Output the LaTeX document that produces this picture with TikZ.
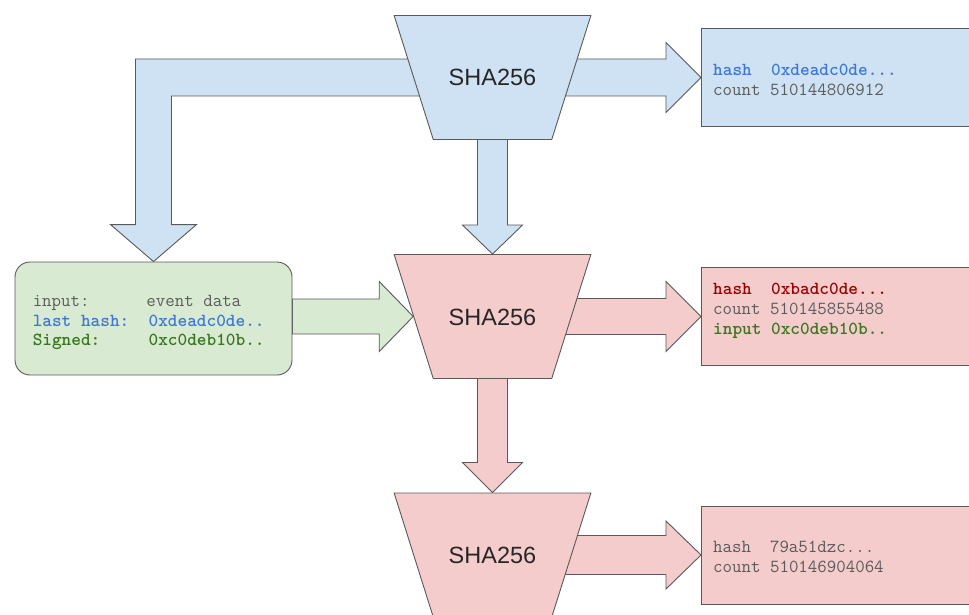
\documentclass[tikz,border=0pt]{standalone}
\usepackage{fontspec}
\newfontfamily\arialfont{Liberation Sans}
\usetikzlibrary{shapes.geometric,calc,backgrounds}

\definecolor{bluefill}{HTML}{CFE2F3}
\definecolor{greenfill}{HTML}{D9EAD3}
\definecolor{redfill}{HTML}{F4CCCC}
\definecolor{edgegray}{HTML}{595959}
\definecolor{textgray}{HTML}{5A5A5A}
\definecolor{hashblue}{HTML}{3C78D8}
\definecolor{hashred}{HTML}{990000}
\definecolor{hashgreen}{HTML}{38761D}

% mono column of #1 characters
\newcommand{\tcol}[2]{\makebox[#1\fontcharwd\font`0][l]{#2}}

% block arrow: [style]{start}{tip}{half shaft}{half head}{head length}
\newcommand{\fatarrow}[6][]{%
  \path ($(#3)!#6!(#2)$) coordinate (fa head);
  \draw[#1] ($(#2)!#4!90:(#3)$) -- ($(fa head)!#4!90:(#3)$)
    -- ($(fa head)!#5!90:(#3)$) -- (#3) -- ($(fa head)!#5!-90:(#3)$)
    -- ($(fa head)!#4!-90:(#3)$) -- ($(#2)!#4!-90:(#3)$) -- cycle;
}

\begin{document}
\begin{tikzpicture}[x=1pt, y=-1pt,
    hashfn/.style={trapezium, shape border rotate=180, trapezium angle=72.5,
      text height=17pt, text depth=0pt, inner xsep=15.5pt, inner ysep=53.5pt,
      draw=edgegray, line width=0.9pt, text=black!85,
      font=\arialfont\fontsize{23.5}{28}\selectfont},
    result/.style={rectangle, anchor=west, draw=edgegray, line width=0.9pt,
      minimum width=300pt, minimum height=98pt},
    inputbox/.style={rectangle, rounded corners=15pt, draw=edgegray,
      line width=0.9pt, fill=greenfill, minimum width=277pt,
      minimum height=113pt},
    monotext/.style={anchor=west, inner sep=0pt, align=left, text=textgray,
      font=\ttfamily\fontsize{18.4}{19.8}\selectfont},
    bluearrow/.style={draw=edgegray, line width=0.9pt, fill=bluefill},
    greenarrow/.style={draw=edgegray, line width=0.9pt, fill=greenfill},
    redarrow/.style={draw=edgegray, line width=0.9pt, fill=redfill}
  ]
  \useasboundingbox (0,0) rectangle (969,615);
  \clip (0,0) rectangle (969,615);

  % hash functions
  \node[hashfn, fill=bluefill] (t1) at (492.5,77.5) {SHA256};
  \node[hashfn, fill=redfill] (t2) at (492.5,316.5) {SHA256};
  \node[hashfn, fill=redfill] (t3) at (492.5,555) {SHA256};

  % results
  \node[result, fill=bluefill] (b1) at (701,77.5) {};
  \node[monotext] (b1 text) at ($(b1.west)+(12,2.5)$)
    {\textcolor{hashblue}{\bfseries\tcol{6}{hash}0xdeadc0de...}\\
     \tcol{6}{count}510144806912};
  \node[result, fill=redfill] (b2) at (701,316.5) {};
  \node[monotext] (b2 text) at ($(b2.west)+(12,-5.5)$)
    {\textcolor{hashred}{\bfseries\tcol{6}{hash}0xbadc0de...}\\
     \tcol{6}{count}510145855488\\
     \textcolor{hashgreen}{\bfseries\tcol{6}{input}0xc0deb10b..}};
  \node[result, fill=redfill] (b3) at (701,555) {};
  \node[monotext] (b3 text) at ($(b3.west)+(12,2)$)
    {\tcol{6}{hash}79a51dzc...\\
     \tcol{6}{count}510146904064};

  % event input
  \node[inputbox] (g) at (153.5,318.5) {};
  \node[monotext] (g text) at ($(g.west)+(18,4)$)
    {\tcol{12}{input:}event data\\
     \textcolor{hashblue}{\bfseries\tcol{12}{last hash:}0xdeadc0de..}\\
     \textcolor{hashgreen}{\bfseries\tcol{12}{Signed:}0xc0deb10b..}};

  \begin{scope}[on background layer]
    \coordinate (bend) at (g.north |- t1.center);
    \draw[bluearrow] ($(t1.center)+(0,-18.5)$) -- ($(bend)+(-18,-18.5)$)
      -- ($(g.north)+(-18,-37)$) -- ($(g.north)+(-43,-37)$) -- (g.north)
      -- ($(g.north)+(43,-37)$) -- ($(g.north)+(18,-37)$)
      -- ($(bend)+(18,18.5)$) -- ($(t1.center)+(0,18.5)$) -- cycle;
    \fatarrow[bluearrow]{t1.center}{b1.west}{18.5pt}{35pt}{35pt}
    \fatarrow[bluearrow]{t1.center}{t2.north}{15pt}{30pt}{29pt}
    \coordinate (gout) at (g.east |- t2.west);
    \fatarrow[greenarrow]{gout}{t2.west}{17.5pt}{35pt}{34pt}
    \fatarrow[redarrow]{t2.center}{b2.west}{18pt}{35pt}{35pt}
    \fatarrow[redarrow]{t2.center}{t3.north}{15pt}{30pt}{30pt}
    \fatarrow[redarrow]{t3.center}{b3.west}{19.5pt}{34pt}{35pt}
  \end{scope}
\end{tikzpicture}
\end{document}
